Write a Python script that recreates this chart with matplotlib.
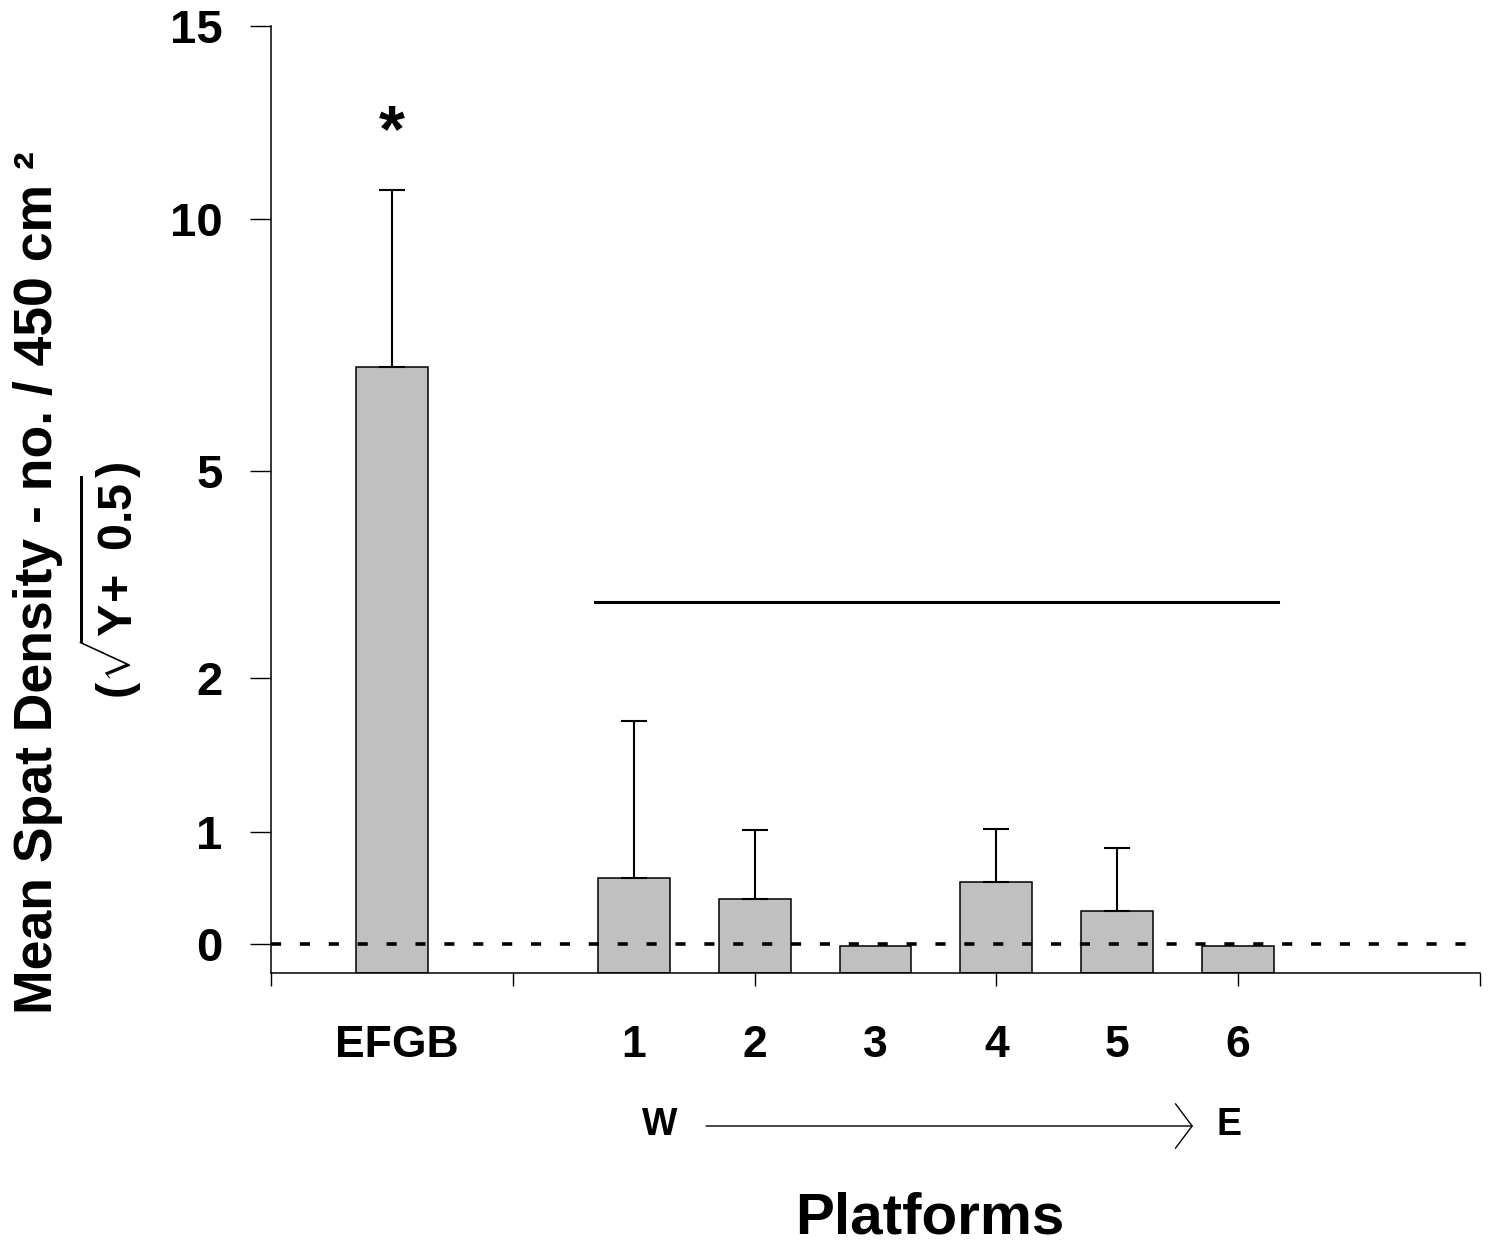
import numpy as np
import matplotlib
matplotlib.use("Agg")
import matplotlib.pyplot as plt

# ---------------- data ----------------
categories = ["EFGB", "1", "2", "3", "4", "5", "6"]
means = [7.06, 0.59, 0.40, -0.02, 0.55, 0.29, -0.02]
err_upper = [3.69, 1.13, 0.61, 0.0, 0.47, 0.57, 0.0]
ytick_vals = [0, 1, 2, 5, 10, 15]
sig_level = 3.1
star_level = 12.2

# axis transform (non-linear display scale read from the tick spacing)
scale_vals = [-1, 0, 1, 2, 5, 10, 15, 20]
scale_pos = [-112, 0, 112, 266, 473, 725, 918, 1111]

def fwd(v):
    return np.interp(v, scale_vals, scale_pos)

def inv(p):
    return np.interp(p, scale_pos, scale_vals)

plt.rcParams['font.family'] = ['Liberation Sans', 'DejaVu Sans']
plt.rcParams['mathtext.fontset'] = 'custom'
plt.rcParams['mathtext.rm'] = 'Liberation Sans:bold'
plt.rcParams['mathtext.it'] = 'Liberation Sans:bold'
plt.rcParams['mathtext.bf'] = 'Liberation Sans:bold'

W, H = 1489, 1247
fig = plt.figure(figsize=(W / 100, H / 100), dpi=100)
ax = fig.add_axes([271 / W, 1 - 973 / H, (1480 - 271) / W, (973 - 26) / H])
ax.set_yscale('function', functions=(fwd, inv))
ybot = -0.26
ax.set_ylim(ybot, 15)
ax.set_xlim(0, 10)

xpos = [1] + [3 + i for i in range(len(categories) - 1)]
heights = [m - ybot for m in means]
ax.bar(xpos, heights, bottom=ybot, width=0.595, color='#c0c0c0',
       edgecolor='black', linewidth=1.1, zorder=2)

for x, m, e in zip(xpos, means, err_upper):
    if e > 0:
        ax.errorbar([x], [m], yerr=[[0], [e]], fmt='none', ecolor='black',
                    elinewidth=1.5, capsize=9.7, capthick=1.5, zorder=3)

ax.axhline(0, color='black', lw=2.6, ls=(0, (2.8, 5.2)), zorder=4)
ax.plot([xpos[1] - 0.32, xpos[-1] + 0.33], [sig_level, sig_level], color='black', lw=2.2)
ax.text(xpos[0], star_level, '*', ha='center', va='center', fontsize=48,
        fontweight='bold')

for s in ['top', 'right']:
    ax.spines[s].set_visible(False)
for s in ['left', 'bottom']:
    ax.spines[s].set_linewidth(1.1)

ax.set_yticks(ytick_vals)
ax.set_yticklabels([str(v) for v in ytick_vals], fontsize=34, fontweight='bold')
ax.yaxis.set_minor_locator(matplotlib.ticker.NullLocator())
ax.tick_params(axis='y', length=15, width=1.0, pad=20)
ax.set_xticks([0, 2, 4, 6, 8, 10])
ax.set_xticklabels([])
ax.tick_params(axis='x', length=9.5, width=1.0)

narrow = ['Liberation Sans Narrow', 'Liberation Sans', 'DejaVu Sans']
xt = ax.get_xaxis_transform()
for i, (x, c) in enumerate(zip(xpos, categories)):
    if i == 0:
        ax.text(x + 0.04, -0.077, c, transform=xt, ha='center', va='center',
                fontsize=32, fontweight='bold')
    else:
        ax.text(x, -0.077, c, transform=xt, ha='center', va='center',
                fontsize=32, fontweight='bold', family=narrow)

# W -> E arrow
fig.text(660 / W, 1 - 1125 / H, 'W', ha='center', va='center', fontsize=27,
         fontweight='bold', family=narrow)
fig.text(1229 / W, 1 - 1125 / H, 'E', ha='center', va='center', fontsize=27,
         fontweight='bold', family=narrow)
ax.annotate('', xy=(1193 / W, 1 - 1126 / H), xytext=(706 / W, 1 - 1126 / H),
            xycoords='figure fraction', textcoords='figure fraction',
            arrowprops=dict(arrowstyle='->,head_length=1.2,head_width=1.6',
                            lw=1.0, color='black', shrinkA=0, shrinkB=0,
                            mutation_scale=10))

fig.text(930 / W, 1 - 1218 / H, 'Platforms', ha='center', va='center',
         fontsize=42, fontweight='bold', family=narrow)

fig.text(38 / W, 1 - 583 / H, 'Mean Spat Density - no. / 450 cm \u00b2',
         rotation=90, ha='center', va='center', fontsize=38.5, fontweight='bold')
fig.text(110 / W, 1 - 580 / H, r'$(\sqrt{Y\!+\ 0.5})$', rotation=90,
         ha='center', va='center', fontsize=35)

fig.savefig('out.png', dpi=100)
